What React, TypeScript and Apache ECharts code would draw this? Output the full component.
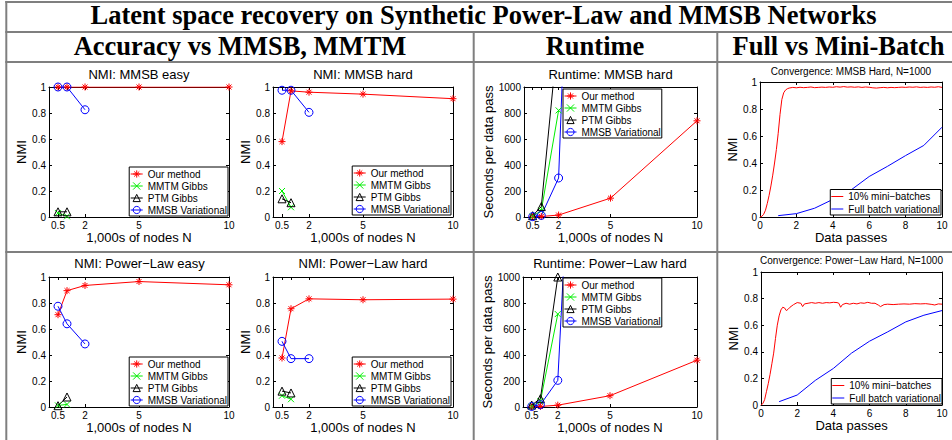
import { useEffect, useRef } from "react";
import * as echarts from "echarts";

// ---------- data ----------
const NODE_TICKS = [0.5, 1, 2, 5, 10];
const NODES_K = [0.5, 1, 2, 5, 10];
const GIBBS_NODES_K = [0.5, 1];
const VAR_NODES_K = [0.5, 1, 2];
const RUNTIME_GIBBS_NODES_K = [0.5, 1, 2];
const RUNTIME_VAR_NODES_K = [0.5, 1, 2, 5];

const METHOD_NAMES = ["Our method", "MMTM Gibbs", "PTM Gibbs", "MMSB Variational"];
const CONV_NAMES = ["10% mini\u2212batches", "Full batch variational"];

// NMI: MMSB easy
const nmiMmsbEasyOurs = [1.0, 1.0, 1.0, 1.0, 1.0];
const nmiMmsbEasyMmtm = [0.03, 0.005];
const nmiMmsbEasyPtm = [0.04, 0.04];
const nmiMmsbEasyVar = [1.0, 1.0, 0.825];

// NMI: MMSB hard
const nmiMmsbHardOurs = [0.58, 0.97, 0.96, 0.945, 0.91];
const nmiMmsbHardMmtm = [0.2, 0.075];
const nmiMmsbHardPtm = [0.14, 0.11];
const nmiMmsbHardVar = [0.975, 0.975, 0.805];

// Runtime: MMSB hard (seconds per data pass)
const rtMmsbOurs = [1, 4, 15, 145, 740];
const rtMmsbMmtm = [5, 50, 820];
const rtMmsbPtm = [10, 80, 1450];
const rtMmsbVar = [3, 12, 300, 11000];

// NMI: Power-Law easy
const nmiPlEasyOurs = [0.71, 0.895, 0.935, 0.965, 0.94];
const nmiPlEasyMmtm = [0.012, 0.02];
const nmiPlEasyPtm = [0.01, 0.077];
const nmiPlEasyVar = [0.775, 0.64, 0.485];

// NMI: Power-Law hard
const nmiPlHardOurs = [0.377, 0.756, 0.832, 0.825, 0.83];
const nmiPlHardMmtm = [0.087, 0.06];
const nmiPlHardPtm = [0.122, 0.108];
const nmiPlHardVar = [0.505, 0.372, 0.372];

// Runtime: Power-Law hard
const rtPlOurs = [1, 4, 14, 87, 360];
const rtPlMmtm = [5, 45, 715];
const rtPlPtm = [15, 64, 1000];
const rtPlVar = [4, 18, 205, 8000];

// Convergence: MMSB Hard, N=1000
const convMmsbMiniPasses = [0, 0.1, 0.2, 0.3, 0.4, 0.5, 0.6, 0.7, 0.8, 0.9, 1.0, 1.1, 1.2, 1.3, 1.4, 1.5, 1.6, 1.8, 2.0, 2.2, 2.4, 2.6, 2.8, 3.0, 3.2, 3.4, 3.6, 3.8, 4.0, 4.2, 4.4, 4.6, 4.8, 5.0, 5.2, 5.4, 5.6, 5.8, 6.0, 6.2, 6.4, 6.6, 6.8, 7.0, 7.2, 7.4, 7.6, 7.8, 8.0, 8.2, 8.4, 8.6, 8.8, 9.0, 9.2, 9.4, 9.6, 9.8, 10];
const convMmsbMiniNmi = [0, 0.005, 0.02, 0.05, 0.1, 0.16, 0.23, 0.31, 0.4, 0.5, 0.62, 0.76, 0.87, 0.92, 0.94, 0.95, 0.955, 0.96, 0.957, 0.961, 0.958, 0.96, 0.963, 0.958, 0.96, 0.962, 0.96, 0.963, 0.961, 0.965, 0.962, 0.966, 0.962, 0.964, 0.961, 0.964, 0.96, 0.963, 0.961, 0.957, 0.955, 0.958, 0.96, 0.957, 0.96, 0.958, 0.96, 0.962, 0.96, 0.963, 0.961, 0.964, 0.96, 0.962, 0.96, 0.963, 0.961, 0.965, 0.96];
const FULL_BATCH_PASSES = [1, 2, 3, 4, 5, 6, 7, 8, 9, 10];
const convMmsbFullNmi = [0.01, 0.025, 0.065, 0.13, 0.2, 0.3, 0.375, 0.455, 0.53, 0.665];

// Convergence: Power-Law Hard, N=1000
const convPlMiniPasses = [0, 0.1, 0.2, 0.3, 0.4, 0.5, 0.6, 0.7, 0.8, 0.9, 1.0, 1.1, 1.2, 1.3, 1.4, 1.5, 1.6, 1.8, 2.0, 2.2, 2.3, 2.4, 2.6, 2.8, 3.0, 3.2, 3.4, 3.6, 3.8, 4.0, 4.2, 4.3, 4.4, 4.5, 4.7, 4.9, 5.1, 5.3, 5.5, 5.7, 5.9, 6.1, 6.3, 6.5, 6.6, 6.8, 7.0, 7.3, 7.6, 7.9, 8.2, 8.5, 8.8, 9.1, 9.4, 9.6, 9.8, 10];
const convPlMiniNmi = [0, 0.01, 0.04, 0.1, 0.16, 0.23, 0.31, 0.39, 0.5, 0.6, 0.67, 0.715, 0.735, 0.73, 0.71, 0.72, 0.735, 0.755, 0.77, 0.765, 0.74, 0.76, 0.765, 0.77, 0.765, 0.77, 0.765, 0.77, 0.768, 0.772, 0.77, 0.765, 0.735, 0.755, 0.765, 0.758, 0.765, 0.76, 0.768, 0.765, 0.772, 0.765, 0.765, 0.75, 0.74, 0.755, 0.758, 0.755, 0.758, 0.76, 0.758, 0.762, 0.76, 0.762, 0.757, 0.752, 0.76, 0.758];
const convPlFullNmi = [0.025, 0.075, 0.185, 0.275, 0.39, 0.48, 0.55, 0.625, 0.675, 0.71];

// ---------- styling ----------
const SANS = "'Liberation Sans', Arial, Helvetica, sans-serif";
const SERIF = "'Liberation Serif', 'Times New Roman', serif";
const ASTERISK = "path://M0 10L20 10M10 0L10 20M2.93 2.93L17.07 17.07M17.07 2.93L2.93 17.07";
const XMARK = "path://M0 0L20 20M20 0L0 20";
const BAR_ICON = "path://M0 0L24 0L24 2L0 2Z";
const CLEAR = "rgba(0,0,0,0)";

const METHOD_STYLE: Record<string, any> = {
  ours: { symbol: ASTERISK, symbolSize: 7, lineStyle: { color: "#ff0000", width: 1 }, itemStyle: { color: "#ff0000", borderColor: "#ff0000", borderWidth: 1 } },
  mmtm: { symbol: XMARK, symbolSize: 6, lineStyle: { color: "#00ee00", width: 1 }, itemStyle: { color: "#00ee00", borderColor: "#00ee00", borderWidth: 1 } },
  ptm: { symbol: "triangle", symbolSize: 8, lineStyle: { color: "#000000", width: 1 }, itemStyle: { color: CLEAR, borderColor: "#000000", borderWidth: 1 } },
  vari: { symbol: "circle", symbolSize: 8, lineStyle: { color: "#0000ff", width: 1 }, itemStyle: { color: CLEAR, borderColor: "#0000ff", borderWidth: 1 } },
  mini: { symbol: "none", showSymbol: false, lineStyle: { color: "#ff0000", width: 1 }, itemStyle: { color: "#ff0000", borderWidth: 0 } },
  full: { symbol: "none", showSymbol: false, lineStyle: { color: "#0000ff", width: 1 }, itemStyle: { color: "#0000ff", borderWidth: 0 } },
};

const zip = (xs: number[], ys: number[]) => xs.map((x, i) => [x, ys[i]]);

type Kind = "nmi" | "runtime" | "conv";
interface Panel {
  kind: Kind;
  grid: { left: number; top: number; width: number; height: number };
  title: string;
  titleX: number;
  titleY: number;
  titleSize: number;
  xName: string;
  xNameGap: number;
  yName: string;
  yNameGap: number;
  legend: Record<string, number>;
  lines: { name: string; style: string; x: number[]; y: number[] }[];
}

const methodLines = (ours: number[], mmtm: number[], ptm: number[], vari: number[], runtime: boolean) => [
  { name: METHOD_NAMES[0], style: "ours", x: NODES_K, y: ours },
  { name: METHOD_NAMES[1], style: "mmtm", x: runtime ? RUNTIME_GIBBS_NODES_K : GIBBS_NODES_K, y: mmtm },
  { name: METHOD_NAMES[2], style: "ptm", x: runtime ? RUNTIME_GIBBS_NODES_K : GIBBS_NODES_K, y: ptm },
  { name: METHOD_NAMES[3], style: "vari", x: runtime ? RUNTIME_VAR_NODES_K : VAR_NODES_K, y: vari },
];

const PANELS: Panel[] = [
  {
    kind: "nmi", grid: { left: 49, top: 87, width: 180, height: 130 }, title: "NMI: MMSB easy", titleX: 139, titleY: 74, titleSize: 13,
    xName: "1,000s of nodes N", xNameGap: 12, yName: "NMI", yNameGap: 17, legend: { right: 724, bottom: 224 },
    lines: methodLines(nmiMmsbEasyOurs, nmiMmsbEasyMmtm, nmiMmsbEasyPtm, nmiMmsbEasyVar, false),
  },
  {
    kind: "nmi", grid: { left: 273, top: 87, width: 180, height: 130 }, title: "NMI: MMSB hard", titleX: 363, titleY: 74, titleSize: 13,
    xName: "1,000s of nodes N", xNameGap: 12, yName: "NMI", yNameGap: 17, legend: { right: 501, bottom: 225 },
    lines: methodLines(nmiMmsbHardOurs, nmiMmsbHardMmtm, nmiMmsbHardPtm, nmiMmsbHardVar, false),
  },
  {
    kind: "runtime", grid: { left: 524, top: 87, width: 173, height: 130 }, title: "Runtime: MMSB hard", titleX: 610.5, titleY: 74, titleSize: 13,
    xName: "1,000s of nodes N", xNameGap: 11.5, yName: "Seconds per data pass", yNameGap: 25, legend: { left: 563, top: 89 },
    lines: methodLines(rtMmsbOurs, rtMmsbMmtm, rtMmsbPtm, rtMmsbVar, true),
  },
  {
    kind: "conv", grid: { left: 760, top: 82, width: 182, height: 135 }, title: "Convergence: MMSB Hard, N=1000", titleX: 851, titleY: 71, titleSize: 10,
    xName: "Data passes", xNameGap: 12, yName: "NMI", yNameGap: 16, legend: { right: 11, bottom: 225 },
    lines: [
      { name: CONV_NAMES[0], style: "mini", x: convMmsbMiniPasses, y: convMmsbMiniNmi },
      { name: CONV_NAMES[1], style: "full", x: FULL_BATCH_PASSES, y: convMmsbFullNmi },
    ],
  },
  {
    kind: "nmi", grid: { left: 49, top: 277, width: 180, height: 130 }, title: "NMI: Power\u2212Law easy", titleX: 139.5, titleY: 263.5, titleSize: 13,
    xName: "1,000s of nodes N", xNameGap: 8.5, yName: "NMI", yNameGap: 17, legend: { right: 724, bottom: 34 },
    lines: methodLines(nmiPlEasyOurs, nmiPlEasyMmtm, nmiPlEasyPtm, nmiPlEasyVar, false),
  },
  {
    kind: "nmi", grid: { left: 273, top: 277, width: 180, height: 130 }, title: "NMI: Power\u2212Law hard", titleX: 363, titleY: 263.5, titleSize: 13,
    xName: "1,000s of nodes N", xNameGap: 8.5, yName: "NMI", yNameGap: 17, legend: { right: 501, bottom: 34 },
    lines: methodLines(nmiPlHardOurs, nmiPlHardMmtm, nmiPlHardPtm, nmiPlHardVar, false),
  },
  {
    kind: "runtime", grid: { left: 523, top: 277, width: 174, height: 130 }, title: "Runtime: Power\u2212Law hard", titleX: 610, titleY: 263.5, titleSize: 13,
    xName: "1,000s of nodes N", xNameGap: 10, yName: "Seconds per data pass", yNameGap: 25, legend: { left: 563, top: 278 },
    lines: methodLines(rtPlOurs, rtPlMmtm, rtPlPtm, rtPlVar, true),
  },
  {
    kind: "conv", grid: { left: 761, top: 272, width: 181, height: 133 }, title: "Convergence: Power\u2212Law Hard, N=1000", titleX: 851.5, titleY: 260, titleSize: 10,
    xName: "Data passes", xNameGap: 13.5, yName: "NMI", yNameGap: 16, legend: { right: 10, bottom: 36 },
    lines: [
      { name: CONV_NAMES[0], style: "mini", x: convPlMiniPasses, y: convPlMiniNmi },
      { name: CONV_NAMES[1], style: "full", x: FULL_BATCH_PASSES, y: convPlFullNmi },
    ],
  },
];

const plainNumber = (v: number) => String(Math.round(v * 1000) / 1000);

function buildOption() {
  const grids: any[] = [];
  const xAxes: any[] = [];
  const yAxes: any[] = [];
  const series: any[] = [];
  const legends: any[] = [];
  const graphics: any[] = [];

  PANELS.forEach((p, i) => {
    grids.push({ ...p.grid, show: false, containLabel: false, outerBoundsMode: "none" });
    const tickFont = 10;
    const xCommon: any = {
      type: "value", gridIndex: i, min: 0, max: 10,
      splitLine: { show: false },
      axisLine: { show: true, onZero: false, lineStyle: { color: "#000", width: 1 } },
    };
    const xTicks = p.kind === "conv" ? { interval: 2 } : {};
    const custom = p.kind === "conv" ? {} : { customValues: NODE_TICKS };
    xAxes.push({
      ...xCommon, ...xTicks, position: "bottom",
      axisTick: { show: true, inside: true, length: 3, lineStyle: { color: "#000" }, ...custom },
      axisLabel: {
        show: true, color: "#000", fontSize: tickFont, fontFamily: SANS, margin: 3,
        hideOverlap: false, showMinLabel: true, showMaxLabel: true, formatter: plainNumber, ...custom,
      },
      name: p.xName, nameLocation: "middle", nameGap: p.xNameGap,
      nameTextStyle: { fontSize: 13, color: "#000", fontFamily: SANS },
    });
    xAxes.push({
      ...xCommon, ...xTicks, position: "top",
      axisTick: { show: true, inside: true, length: 3, lineStyle: { color: "#000" }, ...custom },
      axisLabel: { show: false, ...custom },
    });
    const yMax = p.kind === "runtime" ? 1000 : 1;
    const yInt = p.kind === "runtime" ? 200 : 0.2;
    const yCommon: any = {
      type: "value", gridIndex: i, min: 0, max: yMax, interval: yInt,
      splitLine: { show: false },
      axisLine: { show: true, onZero: false, lineStyle: { color: "#000", width: 1 } },
      axisTick: { show: true, inside: true, length: 3, lineStyle: { color: "#000" } },
    };
    yAxes.push({
      ...yCommon, position: "left",
      axisLabel: { show: true, color: "#000", fontSize: tickFont, fontFamily: SANS, margin: 3, hideOverlap: false, formatter: plainNumber },
      name: p.yName, nameLocation: "middle", nameGap: p.yNameGap, nameRotate: 90,
      nameTextStyle: { fontSize: 13, color: "#000", fontFamily: SANS },
    });
    yAxes.push({ ...yCommon, position: "right", axisLabel: { show: false } });

    p.lines.forEach((l) => {
      series.push({
        type: "line", name: l.name, xAxisIndex: 2 * i, yAxisIndex: 2 * i,
        data: zip(l.x, l.y), clip: true, showSymbol: true,
        emphasis: { disabled: true }, z: 2,
        ...METHOD_STYLE[l.style],
      });
    });

    const isConv = p.kind === "conv";
    legends.push({
      show: true, ...p.legend, orient: "vertical",
      data: isConv ? CONV_NAMES : METHOD_NAMES,
      itemGap: isConv ? 2.5 : 2, itemWidth: 12, itemHeight: 9,
      padding: [2, 1, 1, 1], borderColor: "#000", borderWidth: 1, borderRadius: 0,
      backgroundColor: "#fff", selectedMode: false,
      textStyle: { fontSize: 10, color: "#000", fontFamily: SANS },
      lineStyle: { width: 1 },
      itemStyle: { borderWidth: isConv ? 0 : 1 },
      ...(isConv ? { icon: BAR_ICON } : {}),
    });

    graphics.push({
      type: "text", x: p.titleX, y: p.titleY, silent: true,
      style: { text: p.title, fontSize: p.titleSize, fontFamily: SANS, fill: "#000", align: "center", verticalAlign: "middle" },
    });
  });

  const GRAY = "#7f7f7f";
  const hLine = (y: number, x1: number, x2: number) => ({ type: "line", silent: true, shape: { x1, y1: y, x2, y2: y }, style: { stroke: GRAY, lineWidth: 2 } });
  const vLine = (x: number, y1: number, y2: number) => ({ type: "line", silent: true, shape: { x1: x, y1, x2: x, y2 }, style: { stroke: GRAY, lineWidth: 2 } });
  graphics.push(hLine(2, 5.3, 952), hLine(32, 5.3, 952), hLine(62, 5.3, 952), hLine(252, 5.3, 952));
  graphics.push(vLine(6.3, 1, 440), vLine(473.7, 32, 440), vLine(717.3, 32, 440));

  const header = (text: string, x: number, y: number) => ({
    type: "text", x, y, silent: true,
    style: { text, fontSize: 26.5, fontWeight: "bold", fontFamily: SERIF, fill: "#000", align: "center", verticalAlign: "middle" },
  });
  graphics.push(header("Latent space recovery on Synthetic Power-Law and MMSB Networks", 483.5, 15));
  graphics.push(header("Accuracy vs MMSB, MMTM", 240, 46));
  graphics.push(header("Runtime", 595, 46));
  graphics.push(header("Full vs Mini-Batch", 838.5, 46));

  return {
    animation: false,
    backgroundColor: "#fff",
    textStyle: { fontFamily: SANS },
    grid: grids,
    xAxis: xAxes,
    yAxis: yAxes,
    series,
    legend: legends,
    graphic: { elements: graphics },
  };
}

export default function App() {
  const ref = useRef<HTMLDivElement>(null);
  useEffect(() => {
    if (!ref.current) return;
    const chart = echarts.init(ref.current, undefined, { renderer: "svg", width: 952, height: 440 });
    chart.setOption(buildOption() as any);
    return () => chart.dispose();
  }, []);
  return <div ref={ref} style={{ position: "absolute", left: 0, top: 0, width: 952, height: 440, background: "#fff" }} />;
}
